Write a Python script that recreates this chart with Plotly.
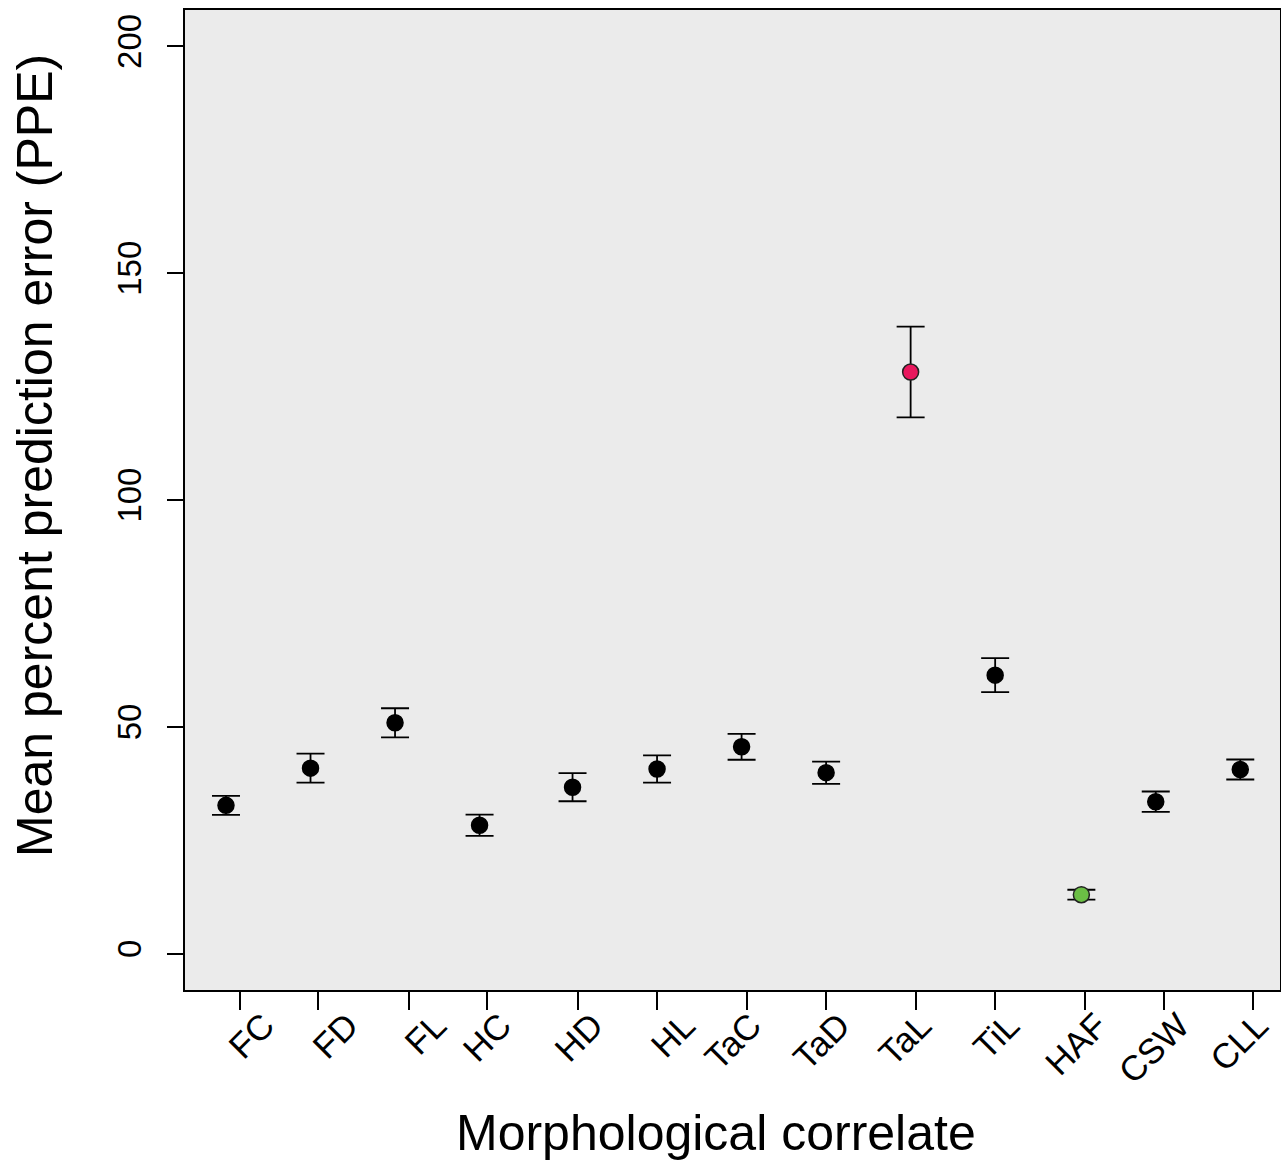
import plotly.graph_objects as go

# ---- data ----
categories = ["FC", "FD", "FL", "HC", "HD", "HL", "TaC", "TaD", "TaL", "TiL", "HAF", "CSW", "CLL"]
mean_ppe = [32.7, 40.9, 50.9, 28.3, 36.7, 40.7, 45.6, 39.9, 128.2, 61.4, 13.0, 33.5, 40.6]
err_ppe = [2.1, 3.2, 3.2, 2.35, 3.1, 3.0, 2.85, 2.45, 10.0, 3.75, 1.1, 2.25, 2.2]
y_ticks = [0, 50, 100, 150, 200]

# ---- layout positions (axis units) ----
x_pos = [1, 2, 3, 4, 5.1, 6.1, 7.1, 8.1, 9.1, 10.1, 11.12, 12, 13]
tick_pos = [1.166, 2.09, 3.166, 4.09, 5.166, 6.1, 7.166, 8.1, 9.166, 10.1, 11.166, 12.1, 13.15]
label_pos = [1.45, 2.444, 3.485, 4.254, 5.342, 6.43, 7.212, 8.26, 9.223, 10.264, 11.305, 12.275, 13.21]
X_RANGE = [0.515, 13.47]

# ---- styles ----
fill_colors = ["black"] * len(categories)
line_colors = ["black"] * len(categories)
fill_colors[categories.index("TaL")] = "#E8175D"
line_colors[categories.index("TaL")] = "#222222"
fill_colors[categories.index("HAF")] = "#6BBE45"
line_colors[categories.index("HAF")] = "#222222"

FONT = "Liberation Sans, Arial, Helvetica, sans-serif"

fig = go.Figure()
fig.add_trace(go.Scatter(
    x=x_pos, y=mean_ppe, mode="markers",
    error_y=dict(type="data", array=err_ppe, visible=True,
                 color="black", thickness=1.8, width=14),
    marker=dict(size=16, color=fill_colors,
                line=dict(color=line_colors, width=1.5)),
    showlegend=False,
    hovertext=categories,
))
# empty trace so that the label-only overlay axis is drawn
fig.add_trace(go.Scatter(x=[], y=[], xaxis="x2", yaxis="y",
                         showlegend=False, hoverinfo="skip"))

fig.update_layout(
    width=1281, height=1161,
    margin=dict(l=185, r=1, t=10, b=171),
    paper_bgcolor="white",
    plot_bgcolor="#EBEBEB",
    font=dict(family=FONT, color="black"),
    xaxis=dict(
        range=X_RANGE, automargin=False,
        tickmode="array", tickvals=tick_pos, showticklabels=False,
        ticks="outside", ticklen=18, tickwidth=1.5, tickcolor="black",
        showgrid=False, zeroline=False,
        showline=True, linecolor="black", linewidth=2, mirror=True,
    ),
    xaxis2=dict(
        range=X_RANGE, automargin=False,
        overlaying="x", anchor="y", side="bottom",
        tickmode="array", tickvals=label_pos, ticktext=categories,
        tickangle=-45, ticks="outside", ticklen=18, tickwidth=0,
        tickcolor="rgba(0,0,0,0)",
        tickfont=dict(size=35, family=FONT, color="black"),
        ticklabelstandoff=-18,
        ticklabeloverflow="allow",
        showgrid=False, zeroline=False, showline=False,
    ),
    yaxis=dict(
        range=[-8, 208], automargin=False,
        tickmode="array", tickvals=y_ticks, ticktext=[str(v) for v in y_ticks],
        tickangle=-90, ticks="outside", ticklen=16, tickwidth=1.5,
        tickcolor="black",
        tickfont=dict(size=33, family=FONT, color="black"),
        ticklabelstandoff=13,
        ticklabeloverflow="allow",
        showgrid=False, zeroline=False,
        showline=True, linecolor="black", linewidth=2, mirror=True,
    ),
    annotations=[
        dict(text="Morphological correlate", xref="paper", yref="paper",
             x=0.485, y=-0.146, xanchor="center", yanchor="middle",
             showarrow=False, font=dict(size=50, family=FONT, color="black")),
        dict(text="Mean percent prediction error (PPE)", xref="paper", yref="paper",
             x=-0.137, y=0.546, xanchor="center", yanchor="middle", textangle=-90,
             showarrow=False, font=dict(size=50, family=FONT, color="black")),
    ],
)

fig.write_html("out.html")
